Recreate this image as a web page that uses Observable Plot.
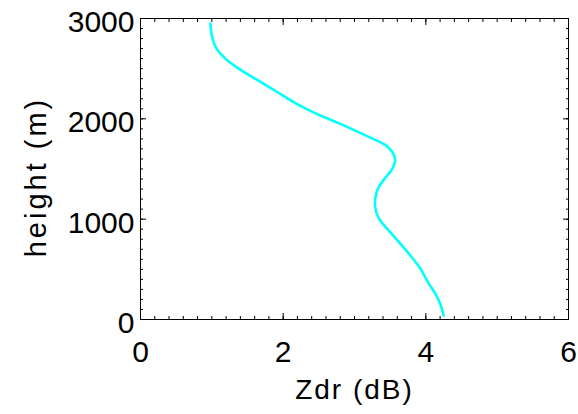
<!DOCTYPE html>
<html><head><meta charset="utf-8">
<script src="https://cdn.jsdelivr.net/npm/d3@7"></script>
<script src="https://cdn.jsdelivr.net/npm/@observablehq/plot@0.6"></script>
<style>body{margin:0;background:#fff} svg{display:block}</style>
</head><body><div id="chart"></div>
<script>
const heights = [2950, 2830, 2720, 2600, 2490, 2390, 2270, 2150, 2050, 1950, 1860, 1780, 1740, 1670, 1590, 1490, 1410, 1320, 1240, 1120, 1010, 910, 790, 640, 510, 360, 260, 160, 40];
const zdr = [0.98, 1.00, 1.05, 1.19, 1.40, 1.63, 1.91, 2.19, 2.47, 2.80, 3.08, 3.32, 3.43, 3.53, 3.57, 3.52, 3.43, 3.34, 3.30, 3.29, 3.34, 3.45, 3.60, 3.78, 3.92, 4.04, 4.13, 4.20, 4.25];
const xTicks = [0, 2, 4, 6];
const yTicks = [0, 1000, 2000, 3000];
const xMinor = d3.ticks(0, 6, 30);
const yMinor = d3.ticks(0, 3000, 30);
const xLabel = "Zdr (dB)";
const yLabel = "height (m)";
const data = heights.map((h, i) => ({h, z: zdr[i]}));
const font = "'Liberation Sans', Arial, Helvetica, sans-serif";
const fmt = d => String(d);
const plot = Plot.plot({
  width: 578, height: 414,
  marginLeft: 140, marginRight: 10, marginTop: 18, marginBottom: 95,
  style: {fontFamily: font, background: "white", color: "black"},
  x: {domain: [0, 6]},
  y: {domain: [0, 3000]},
  marks: [
    Plot.axisX(xMinor, {anchor: "bottom", tickSize: -3, text: null, label: null}),
    Plot.axisX(xMinor, {anchor: "top", tickSize: -3, text: null, label: null}),
    Plot.axisX(xTicks, {anchor: "bottom", tickSize: -6, text: null, label: null}),
    Plot.axisX(xTicks, {anchor: "top", tickSize: -6, text: null, label: null}),
    Plot.axisY(yMinor, {anchor: "left", tickSize: -3, text: null, label: null}),
    Plot.axisY(yMinor, {anchor: "right", tickSize: -3, text: null, label: null}),
    Plot.axisY(yTicks, {anchor: "left", tickSize: -6, text: null, label: null}),
    Plot.axisY(yTicks, {anchor: "right", tickSize: -6, text: null, label: null}),
    Plot.axisX(xTicks, {anchor: "bottom", tickSize: 0, tickPadding: 21, fontSize: 30, tickFormat: fmt, label: null}),
    Plot.axisY(yTicks, {anchor: "left", tickSize: 0, tickPadding: 6, dy: 4, fontSize: 30, tickFormat: fmt, label: null}),
    Plot.frame({stroke: "black"}),
    Plot.line(data, {x: "z", y: "h", stroke: "#00ffff", strokeWidth: 2.6, curve: "catmull-rom"}),
    Plot.text([xLabel], {text: d => d, frameAnchor: "bottom", lineAnchor: "bottom", dy: 79, fontSize: 28}),
    Plot.text([yLabel], {text: d => d, frameAnchor: "left", textAnchor: "middle", rotate: -90, lineAnchor: "bottom", dx: -95, dy: 8, fontSize: 29})
  ]
});
d3.select(plot).selectAll("text").each(function() {
  const t = this.textContent;
  if (t === xLabel) d3.select(this).attr("letter-spacing", "2px");
  if (t === yLabel) d3.select(this).attr("letter-spacing", "3px");
});
document.getElementById("chart").appendChild(plot);
</script>
</body></html>
